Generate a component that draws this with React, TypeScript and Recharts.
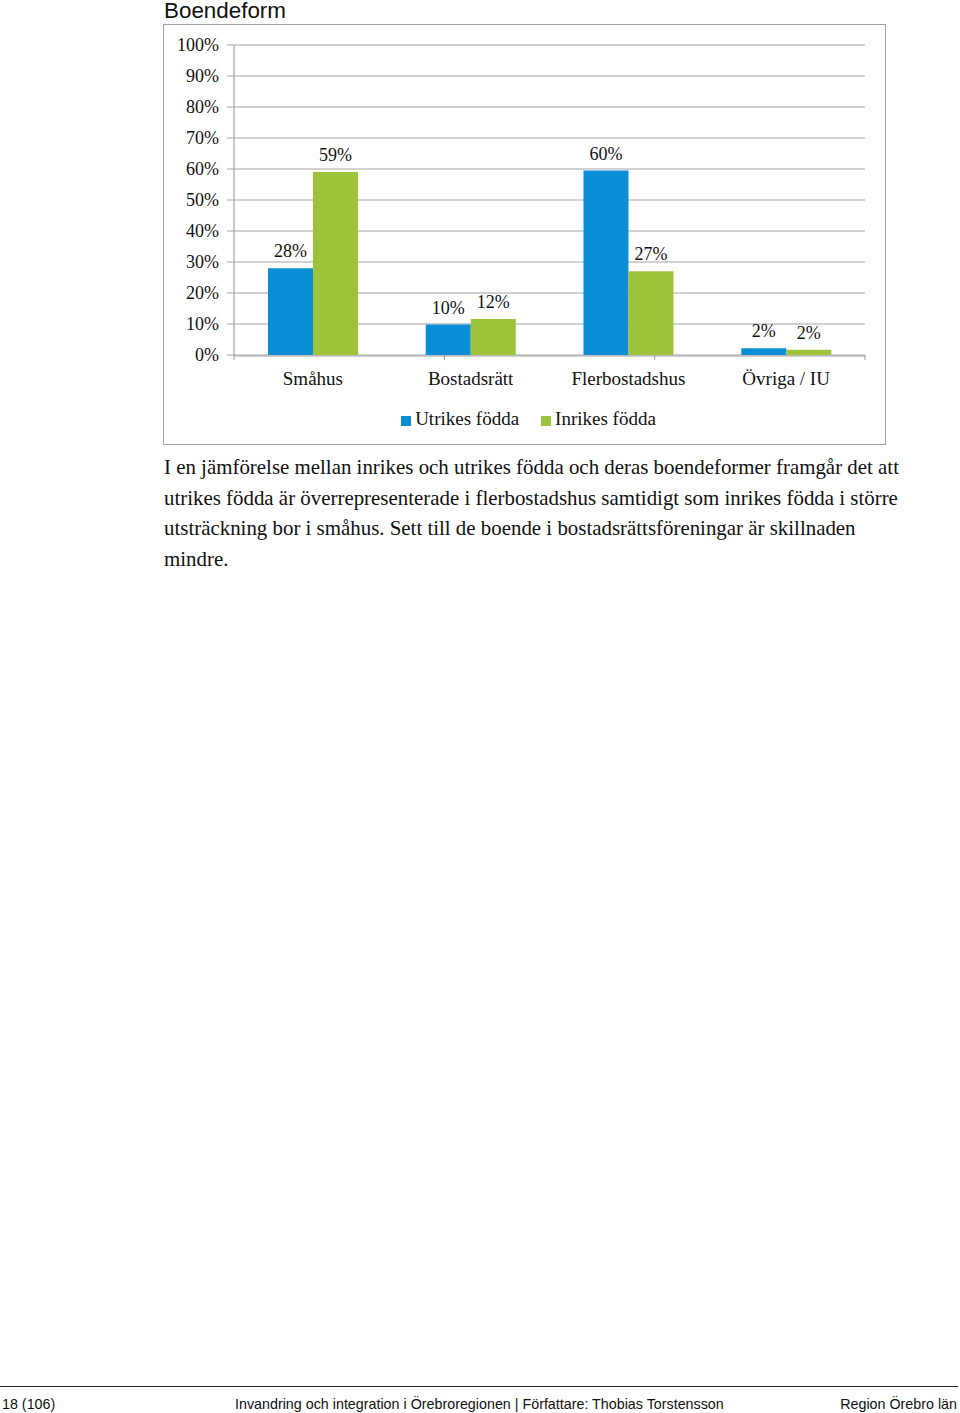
import { BarChart, Bar, XAxis, YAxis, CartesianGrid, Legend, LabelList } from 'recharts'

const categories = ['Småhus', 'Bostadsrätt', 'Flerbostadshus', 'Övriga / IU']
const utrikes = [28, 9.8, 59.5, 2.2]
const inrikes = [59, 11.6, 27, 1.7]
const yTicks = [0, 10, 20, 30, 40, 50, 60, 70, 80, 90, 100]
const edgeTicks = [0, 1, 2, 3, 4]
const seriesOrder = ['utrikes', 'inrikes']

const paragraph = [
  'I en jämförelse mellan inrikes och utrikes födda och deras boendeformer framgår det att',
  'utrikes födda är överrepresenterade i flerbostadshus samtidigt som inrikes födda i större',
  'utsträckning bor i småhus. Sett till de boende i bostadsrättsföreningar är skillnaden',
  'mindre.',
]

const data = categories.map((name, i) => ({
  name,
  utrikes: utrikes[i],
  inrikes: inrikes[i],
}))

const serif = '"Liberation Serif", "Times New Roman", serif'
const sans = '"Liberation Sans", Arial, sans-serif'
const gray = '#a3a3a3'
const BLUE = '#0a8fd6'
const GREEN = '#9dc33b'

const pct = (v: any) => `${Math.round(Number(v))}%`

export default function App() {
  return (
    <div style={{ position: 'absolute', left: 0, top: 0, width: 960, height: 1413, background: '#fff' }}>
      <div style={{ position: 'absolute', left: 164, top: -2, fontFamily: sans, fontSize: 22.4, color: '#111' }}>
        Boendeform
      </div>

      <div
        style={{
          position: 'absolute',
          left: 163,
          top: 24,
          width: 721,
          height: 419,
          border: `1.5px solid ${gray}`,
        }}
      >
        <BarChart
          width={721}
          height={419}
          data={data}
          barGap={0}
          margin={{ top: 20, right: 20, left: 10, bottom: 20 }}
        >
          <CartesianGrid xAxisId="b" vertical={false} stroke={gray} strokeWidth={1.2} />
          <XAxis
            xAxisId="a"
            type="number"
            domain={[0, 4]}
            ticks={edgeTicks}
            allowDataOverflow
            height={1}
            tick={() => <g />}
            axisLine={false}
            tickLine={{ stroke: gray, strokeWidth: 1.2 }}
            tickSize={5}
          />
          <XAxis
            xAxisId="b"
            dataKey="name"
            height={46}
            axisLine={{ stroke: gray, strokeWidth: 1.2 }}
            tickLine={false}
            tickSize={6}
            tickMargin={10}
            tick={{ fill: '#111', fontSize: 19, fontFamily: serif }}
          />
          <YAxis
            domain={[0, 100]}
            ticks={yTicks}
            width={60}
            tickFormatter={(v: number) => `${v}%`}
            axisLine={{ stroke: gray, strokeWidth: 1.2 }}
            tickLine={{ stroke: gray }}
            tickSize={7}
            tickMargin={8}
            tick={{ fill: '#111', fontSize: 18, fontFamily: serif }}
          />
          <Legend
            verticalAlign="bottom"
            iconType="square"
            iconSize={10}
            itemSorter={(item: any) => seriesOrder.indexOf(item.dataKey)}
            wrapperStyle={{ fontFamily: serif, fontSize: 19, color: '#111', marginLeft: 20, bottom: 14 }}
            formatter={(value: string) => <span style={{ color: '#111', paddingRight: 12 }}>{value}</span>}
          />
          <Bar xAxisId="b" dataKey="utrikes" name="Utrikes födda" fill={BLUE} barSize={45} isAnimationActive={false}>
            <LabelList
              dataKey="utrikes"
              position="top"
              offset={11}
              formatter={pct}
              fill="#111"
              fontSize={18}
              fontFamily={serif}
            />
          </Bar>
          <Bar xAxisId="b" dataKey="inrikes" name="Inrikes födda" fill={GREEN} barSize={45} isAnimationActive={false}>
            <LabelList
              dataKey="inrikes"
              position="top"
              offset={11}
              formatter={pct}
              fill="#111"
              fontSize={18}
              fontFamily={serif}
            />
          </Bar>
        </BarChart>
      </div>

      <div
        style={{
          position: 'absolute',
          left: 164,
          top: 452,
          fontFamily: serif,
          fontSize: 20.9,
          lineHeight: '30.5px',
          color: '#111',
          whiteSpace: 'nowrap',
        }}
      >
        {paragraph.map((line, i) => (
          <div key={i}>{line}</div>
        ))}
      </div>

      <div style={{ position: 'absolute', left: 0, top: 1386, width: 958, borderTop: '1px solid #222' }} />
      <div
        style={{
          position: 'absolute',
          left: 0,
          top: 1396,
          width: 960,
          fontFamily: sans,
          fontSize: 14.3,
          color: '#111',
        }}
      >
        <span style={{ position: 'absolute', left: 2 }}>18 (106)</span>
        <span style={{ position: 'absolute', left: 235 }}>
          Invandring och integration i Örebroregionen | Författare: Thobias Torstensson
        </span>
        <span style={{ position: 'absolute', right: 3 }}>Region Örebro län</span>
      </div>
    </div>
  )
}
